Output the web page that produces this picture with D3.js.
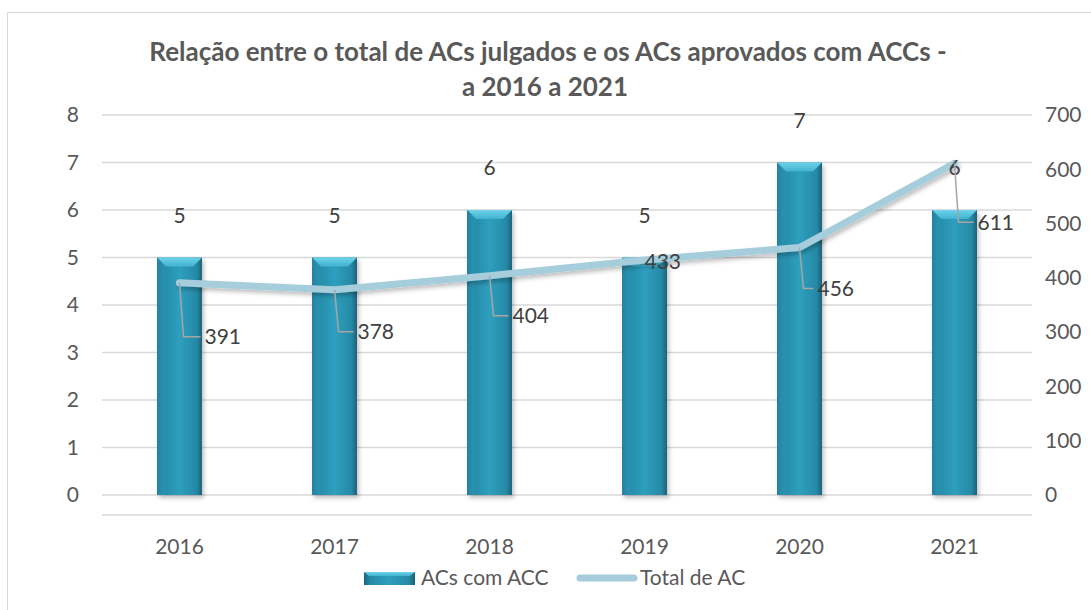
<!DOCTYPE html>
<html>
<head>
<meta charset="utf-8">
<script src="https://cdn.jsdelivr.net/npm/d3@7"></script>
<style>
  body { margin: 0; background: #fff; }
  svg { display: block; font-family: Lato, "Open Sans", sans-serif; }
</style>
</head>
<body>
<svg id="chart" width="1091" height="610"></svg>
<script>
// data
const years = ["2016", "2017", "2018", "2019", "2020", "2021"];
const acsComAcc = [5, 5, 6, 5, 7, 6];
const totalDeAc = [391, 378, 404, 433, 456, 611];
const leftTicks = [0, 1, 2, 3, 4, 5, 6, 7, 8];
const rightTicks = [0, 100, 200, 300, 400, 500, 600, 700];

// label offsets for the line labels (dx, dy from point), like excel leader lines
const lineLabelOffsets = [[25, 54], [23, 42], [23, 40], [0, 2], [18, 41], [23, 59]];

const svg = d3.select("#chart");
const margin = { top: 115, right: 59, bottom: 115, left: 102 },
  width = +svg.attr("width") - margin.left - margin.right,
  height = +svg.attr("height") - margin.top - margin.bottom;

const txt = "#595959";
const fs = 21;

// defs: gradients + shadow
const defs = svg.append("defs");
const barGrad = defs.append("linearGradient").attr("id", "barGrad")
  .attr("x1", "0").attr("x2", "1").attr("y1", "0").attr("y2", "0");
[["0%", "#1d6780"], ["12%", "#2689a6"], ["50%", "#2e9fbe"], ["88%", "#2689a6"], ["100%", "#1b6178"]]
  .forEach(s => barGrad.append("stop").attr("offset", s[0]).attr("stop-color", s[1]));
const topGrad = defs.append("linearGradient").attr("id", "topGrad")
  .attr("x1", "0").attr("x2", "0").attr("y1", "0").attr("y2", "1");
[["0%", "#6fd3ea"], ["100%", "#3fb2d0"]]
  .forEach(s => topGrad.append("stop").attr("offset", s[0]).attr("stop-color", s[1]));
const sh = defs.append("filter").attr("id", "shadow")
  .attr("x", "-20%").attr("y", "-20%").attr("width", "140%").attr("height", "140%");
sh.append("feDropShadow").attr("dx", 2).attr("dy", 3).attr("stdDeviation", 2)
  .attr("flood-color", "#000").attr("flood-opacity", 0.25);

// chart border
svg.append("rect").attr("x", 7.5).attr("y", 12.5).attr("width", 1100).attr("height", 620)
  .attr("fill", "none").attr("stroke", "#d9d9d9");

// title
const title = svg.append("text").attr("x", 545).attr("text-anchor", "middle")
  .attr("font-weight", "bold").attr("font-size", 26).attr("fill", txt);
title.append("tspan").attr("x", 548).attr("y", 61).text("Relação entre o total de ACs julgados e os ACs aprovados com ACCs -");
title.append("tspan").attr("x", 545).attr("y", 96).text("a 2016 a 2021");

const g = svg.append("g").attr("transform", `translate(${margin.left},${margin.top})`);

const xScale = d3.scaleBand().domain(years).range([0, width])
  .paddingInner(0.71).paddingOuter(0.355);
const yLeft = d3.scaleLinear().domain([0, 8]).range([height, 0]);
const yRight = d3.scaleLinear().domain([0, 700]).range([height, 0]);

// gridlines
g.append("g").selectAll("line").data(leftTicks).join("line")
  .attr("x1", 0).attr("x2", width)
  .attr("y1", d => yLeft(d)).attr("y2", d => yLeft(d))
  .attr("stroke", "#d9d9d9").attr("stroke-width", 1.3);

// category axis line
g.append("line").attr("x1", 0).attr("x2", width)
  .attr("y1", height + 20).attr("y2", height + 20)
  .attr("stroke", "#d9d9d9").attr("stroke-width", 1.3);

// left axis
const leftAxis = d3.axisLeft(yLeft).tickValues(leftTicks).tickSize(0).tickPadding(23);
const lag = g.append("g").call(leftAxis);
lag.select(".domain").remove();
lag.selectAll("text").attr("font-size", fs).attr("fill", txt).attr("font-family", "Lato");

// right axis
const rightAxis = d3.axisRight(yRight).tickValues(rightTicks).tickSize(0).tickPadding(13);
const rag = g.append("g").attr("transform", `translate(${width},0)`).call(rightAxis);
rag.select(".domain").remove();
rag.selectAll("text").attr("font-size", fs).attr("fill", txt).attr("font-family", "Lato");

// bottom axis
const xAxis = d3.axisBottom(xScale).tickSize(0).tickPadding(24);
const xag = g.append("g").attr("transform", `translate(0,${height + 20})`).call(xAxis);
xag.select(".domain").remove();
xag.selectAll("text").attr("font-size", fs).attr("fill", txt).attr("font-family", "Lato");

// bars
const bw = xScale.bandwidth();
const bars = g.append("g").selectAll("g").data(acsComAcc).join("g")
  .attr("transform", (d, i) => `translate(${xScale(years[i])},${yLeft(d)})`)
  .attr("filter", "url(#shadow)");
bars.append("rect").attr("width", bw).attr("height", d => height - yLeft(d))
  .attr("fill", "url(#barGrad)");
const bev = 9;
bars.append("path")
  .attr("d", `M0,0 L${bw},0 L${bw - bev},${bev} L${bev},${bev} Z`)
  .attr("fill", "url(#topGrad)");
bars.append("path")
  .attr("d", d => `M0,0 L${bev},${bev} L${bev},${height - yLeft(d)} L0,${height - yLeft(d)} Z`)
  .attr("fill", "#2a94b3").attr("opacity", 0.6);

// line
const cx = i => xScale(years[i]) + bw / 2;
const line = d3.line().x((d, i) => cx(i)).y(d => yRight(d));
g.append("path").datum(totalDeAc).attr("d", line)
  .attr("fill", "none").attr("stroke", "#a5cddb").attr("stroke-width", 7)
  .attr("stroke-linecap", "round").attr("stroke-linejoin", "round")
  .attr("filter", "url(#shadow)");

// bar labels (drawn above the line)
g.append("g").selectAll("text").data(acsComAcc).join("text")
  .attr("x", (d, i) => xScale(years[i]) + bw / 2)
  .attr("y", d => yLeft(d) - 35)
  .attr("text-anchor", "middle").attr("font-size", fs).attr("fill", "#404040")
  .text(d => d);

// leader lines + line labels
const lbl = g.append("g");
totalDeAc.forEach((v, i) => {
  const px = cx(i), py = yRight(v);
  const [dx, dy] = lineLabelOffsets[i];
  if (dy > 15) {
    lbl.append("path")
      .attr("d", `M${px},${py} L${px + 4},${py + dy} L${px + dx - 4},${py + dy}`)
      .attr("fill", "none").attr("stroke", "#a6a6a6").attr("stroke-width", 1.5);
  }
  lbl.append("text").attr("x", px + dx).attr("y", py + dy).attr("dy", "0.35em")
    .attr("font-size", fs).attr("fill", "#404040").text(v);
});

// legend
const leg = svg.append("g").attr("transform", "translate(364,578)");
leg.append("rect").attr("x", 0).attr("y", -6).attr("width", 51).attr("height", 13).attr("fill", "url(#barGrad)");
leg.append("path").attr("d", "M0,-6 L51,-6 L46,-2 L5,-2 Z").attr("fill", "url(#topGrad)");
leg.append("text").attr("x", 57).attr("dy", "0.35em").attr("font-size", fs).attr("fill", txt).text("ACs com ACC");
leg.append("line").attr("x1", 216).attr("x2", 270).attr("y1", 0).attr("y2", 0)
  .attr("stroke", "#a5cddb").attr("stroke-width", 7).attr("stroke-linecap", "round");
leg.append("text").attr("x", 276).attr("dy", "0.35em").attr("font-size", fs).attr("fill", txt).text("Total de AC");
</script>
</body>
</html>
